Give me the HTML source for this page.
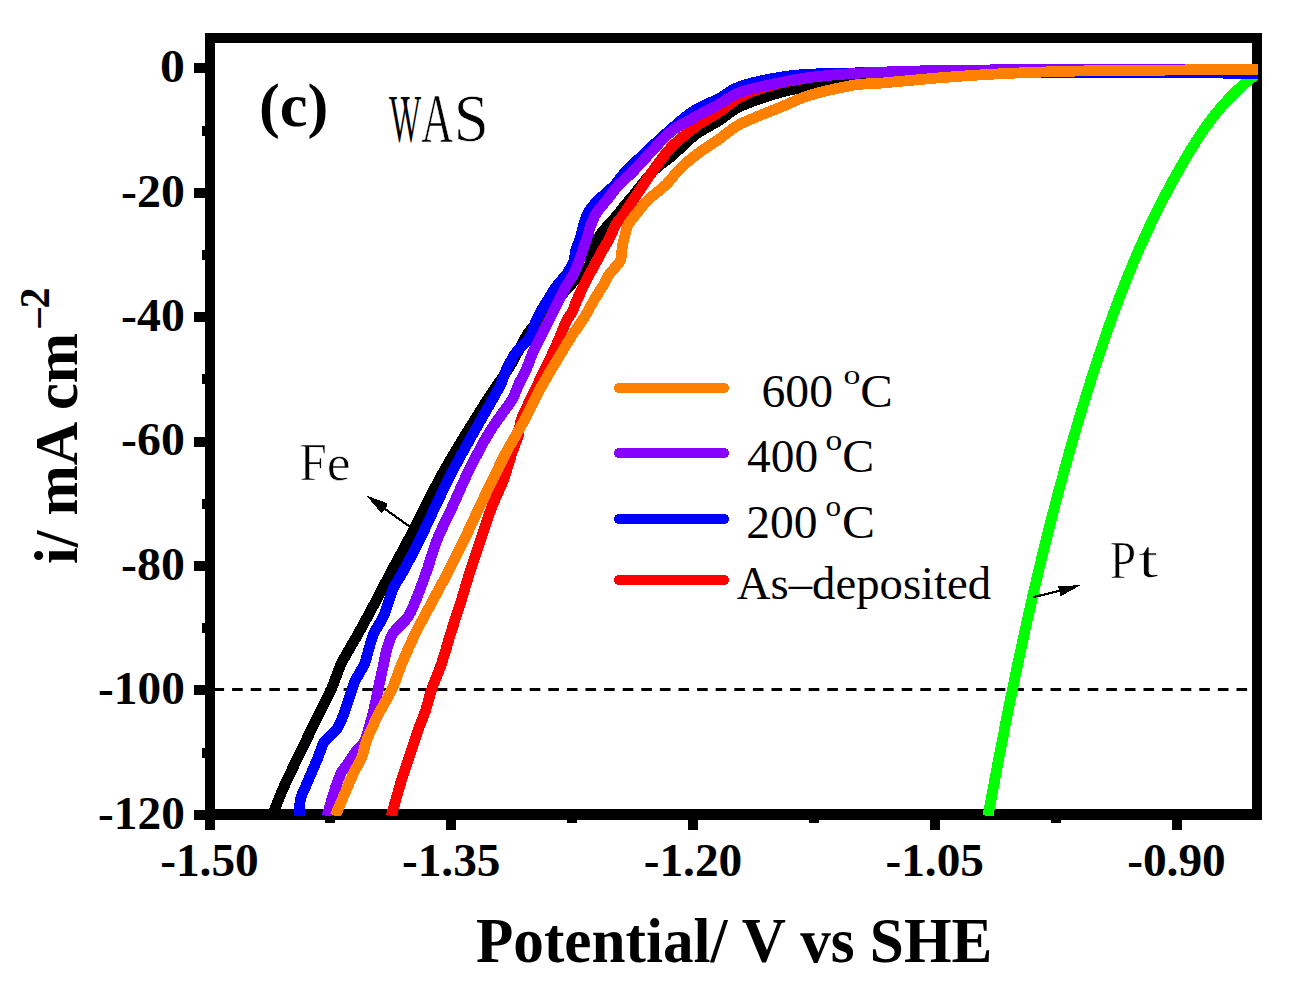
<!DOCTYPE html><html><head><meta charset="utf-8"><style>html,body{margin:0;padding:0;background:#fff;width:1290px;height:992px;overflow:hidden}svg{display:block}text{font-family:"Liberation Serif",serif}</style></head><body>
<svg width="1290" height="992" viewBox="0 0 1290 992">
<rect width="1290" height="992" fill="#fff"/>
<defs><clipPath id="pc"><rect x="205" y="33" width="1053" height="783"/></clipPath></defs>
<rect x="205" y="33" width="1057" height="10" fill="#000"/>
<rect x="205" y="33" width="10" height="787" fill="#000"/>
<rect x="1252" y="33" width="10" height="787" fill="#000"/>
<rect x="205" y="809" width="1057" height="11" fill="#000"/>
<rect x="194" y="63" width="12" height="10" fill="#000"/>
<rect x="202" y="126" width="4" height="10" fill="#000"/>
<rect x="194" y="188" width="12" height="10" fill="#000"/>
<rect x="202" y="250" width="4" height="10" fill="#000"/>
<rect x="194" y="312" width="12" height="10" fill="#000"/>
<rect x="202" y="374" width="4" height="10" fill="#000"/>
<rect x="194" y="437" width="12" height="10" fill="#000"/>
<rect x="202" y="499" width="4" height="10" fill="#000"/>
<rect x="194" y="561" width="12" height="10" fill="#000"/>
<rect x="202" y="623" width="4" height="10" fill="#000"/>
<rect x="194" y="685" width="12" height="10" fill="#000"/>
<rect x="202" y="748" width="4" height="10" fill="#000"/>
<rect x="194" y="810" width="12" height="10" fill="#000"/>
<rect x="205" y="818" width="10" height="12" fill="#000"/>
<rect x="325" y="818" width="10" height="5" fill="#000"/>
<rect x="446" y="818" width="10" height="12" fill="#000"/>
<rect x="567" y="818" width="10" height="5" fill="#000"/>
<rect x="688" y="818" width="10" height="12" fill="#000"/>
<rect x="809" y="818" width="10" height="5" fill="#000"/>
<rect x="930" y="818" width="10" height="12" fill="#000"/>
<rect x="1051" y="818" width="10" height="5" fill="#000"/>
<rect x="1172" y="818" width="10" height="12" fill="#000"/>
<line x1="213.5" y1="689.5" x2="1250" y2="689.5" stroke="#000" stroke-width="3" stroke-dasharray="10.6 8.0"/>
<g clip-path="url(#pc)">
<path d="M1255.1,75.0 C1254.9,75.2 1254.2,75.7 1253.8,76.0 C1253.4,76.3 1253.0,76.7 1252.6,77.0 C1252.1,77.3 1251.7,77.7 1251.3,78.0 C1250.9,78.3 1250.5,78.7 1250.1,79.0 C1249.7,79.3 1249.3,79.7 1248.9,80.0 C1248.5,80.3 1248.1,80.7 1247.7,81.0 C1247.3,81.3 1246.9,81.7 1246.5,82.0 C1246.1,82.3 1245.7,82.7 1245.3,83.0 C1245.0,83.3 1244.6,83.7 1244.2,84.0 C1243.8,84.3 1243.4,84.7 1243.1,85.0 C1242.7,85.3 1242.3,85.7 1241.9,86.0 C1241.6,86.3 1241.2,86.7 1240.8,87.0 C1240.5,87.3 1240.1,87.7 1239.7,88.0 C1239.4,88.3 1239.0,88.7 1238.6,89.0 C1238.3,89.3 1237.9,89.7 1237.6,90.0 C1237.2,90.3 1236.9,90.7 1236.5,91.0 C1236.2,91.3 1235.8,91.7 1235.5,92.0 C1235.1,92.3 1234.8,92.7 1234.5,93.0 C1234.1,93.3 1233.8,93.7 1233.4,94.0 C1233.1,94.3 1232.8,94.7 1232.4,95.0 C1232.1,95.3 1231.8,95.7 1231.4,96.0 C1231.1,96.3 1230.8,96.7 1230.5,97.0 C1230.1,97.3 1229.8,97.7 1229.5,98.0 C1229.2,98.3 1228.8,98.7 1228.5,99.0 C1228.2,99.3 1228.3,99.2 1227.6,100.0 C1226.8,100.8 1225.1,102.7 1223.9,104.0 C1222.7,105.3 1221.5,106.7 1220.4,108.0 C1219.2,109.3 1218.1,110.7 1217.0,112.0 C1215.9,113.3 1214.9,114.7 1213.8,116.0 C1212.8,117.3 1211.8,118.7 1210.7,120.0 C1209.7,121.3 1208.8,122.7 1207.8,124.0 C1206.8,125.3 1205.9,126.7 1204.9,128.0 C1204.0,129.3 1203.1,130.7 1202.2,132.0 C1201.3,133.3 1200.4,134.7 1199.5,136.0 C1198.7,137.3 1197.8,138.7 1196.9,140.0 C1196.1,141.3 1195.2,142.7 1194.4,144.0 C1193.6,145.3 1192.8,146.7 1191.9,148.0 C1191.1,149.3 1190.3,150.7 1189.5,152.0 C1188.7,153.3 1187.9,154.7 1187.1,156.0 C1186.3,157.3 1185.5,158.7 1184.7,160.0 C1183.9,161.3 1183.1,162.7 1182.4,164.0 C1181.6,165.3 1180.8,166.7 1180.1,168.0 C1179.3,169.3 1178.5,170.7 1177.8,172.0 C1177.0,173.3 1176.3,174.7 1175.5,176.0 C1174.8,177.3 1174.0,178.7 1173.3,180.0 C1172.6,181.3 1171.8,182.7 1171.1,184.0 C1170.4,185.3 1169.7,186.7 1169.0,188.0 C1168.2,189.3 1167.5,190.7 1166.8,192.0 C1166.1,193.3 1165.4,194.7 1164.7,196.0 C1164.0,197.3 1163.3,198.7 1162.6,200.0 C1161.9,201.3 1161.3,202.7 1160.6,204.0 C1159.9,205.3 1159.2,206.7 1158.6,208.0 C1157.9,209.3 1157.2,210.7 1156.6,212.0 C1155.9,213.3 1155.2,214.7 1154.6,216.0 C1153.9,217.3 1153.3,218.7 1152.7,220.0 C1152.0,221.3 1151.4,222.7 1150.7,224.0 C1150.1,225.3 1149.5,226.7 1148.8,228.0 C1148.2,229.3 1147.6,230.7 1147.0,232.0 C1146.4,233.3 1145.7,234.7 1145.1,236.0 C1144.5,237.3 1143.9,238.7 1143.3,240.0 C1142.7,241.3 1142.1,242.7 1141.5,244.0 C1140.9,245.3 1140.3,246.7 1139.7,248.0 C1139.1,249.3 1138.6,250.7 1138.0,252.0 C1137.4,253.3 1136.8,254.7 1136.2,256.0 C1135.7,257.3 1135.1,258.7 1134.5,260.0 C1134.0,261.3 1133.4,262.7 1132.8,264.0 C1132.3,265.3 1131.7,266.7 1131.2,268.0 C1130.6,269.3 1130.1,270.7 1129.5,272.0 C1129.0,273.3 1128.4,274.7 1127.9,276.0 C1127.3,277.3 1126.8,278.7 1126.3,280.0 C1125.7,281.3 1125.2,282.7 1124.7,284.0 C1124.2,285.3 1123.6,286.7 1123.1,288.0 C1122.6,289.3 1122.1,290.7 1121.6,292.0 C1121.0,293.3 1120.5,294.7 1120.0,296.0 C1119.5,297.3 1119.0,298.7 1118.5,300.0 C1118.0,301.3 1117.5,302.7 1117.0,304.0 C1116.5,305.3 1116.0,306.7 1115.5,308.0 C1115.0,309.3 1114.5,310.7 1114.0,312.0 C1113.5,313.3 1113.1,314.7 1112.6,316.0 C1112.1,317.3 1111.6,318.7 1111.1,320.0 C1110.7,321.3 1110.2,322.7 1109.7,324.0 C1109.2,325.3 1108.8,326.7 1108.3,328.0 C1107.8,329.3 1107.4,330.7 1106.9,332.0 C1106.4,333.3 1106.0,334.7 1105.5,336.0 C1105.0,337.3 1104.6,338.7 1104.1,340.0 C1103.7,341.3 1103.2,342.7 1102.8,344.0 C1102.3,345.3 1101.9,346.7 1101.4,348.0 C1101.0,349.3 1100.5,350.7 1100.1,352.0 C1099.6,353.3 1099.2,354.7 1098.7,356.0 C1098.3,357.3 1097.9,358.7 1097.4,360.0 C1097.0,361.3 1096.6,362.7 1096.1,364.0 C1095.7,365.3 1095.3,366.7 1094.8,368.0 C1094.4,369.3 1094.0,370.7 1093.5,372.0 C1093.1,373.3 1092.7,374.7 1092.3,376.0 C1091.8,377.3 1091.4,378.7 1091.0,380.0 C1090.6,381.3 1090.1,382.7 1089.7,384.0 C1089.3,385.3 1088.9,386.7 1088.5,388.0 C1088.1,389.3 1087.6,390.7 1087.2,392.0 C1086.8,393.3 1086.4,394.7 1086.0,396.0 C1085.6,397.3 1085.2,398.7 1084.8,400.0 C1084.3,401.3 1083.9,402.7 1083.5,404.0 C1083.1,405.3 1082.7,406.7 1082.3,408.0 C1081.9,409.3 1081.5,410.7 1081.1,412.0 C1080.7,413.3 1080.3,414.7 1079.9,416.0 C1079.5,417.3 1079.1,418.7 1078.7,420.0 C1078.3,421.3 1077.9,422.7 1077.5,424.0 C1077.1,425.3 1076.7,426.7 1076.3,428.0 C1076.0,429.3 1075.6,430.7 1075.2,432.0 C1074.8,433.3 1074.4,434.7 1074.0,436.0 C1073.6,437.3 1073.2,438.7 1072.9,440.0 C1072.5,441.3 1072.1,442.7 1071.7,444.0 C1071.3,445.3 1070.9,446.7 1070.6,448.0 C1070.2,449.3 1069.8,450.7 1069.4,452.0 C1069.0,453.3 1068.7,454.7 1068.3,456.0 C1067.9,457.3 1067.5,458.7 1067.2,460.0 C1066.8,461.3 1066.4,462.7 1066.1,464.0 C1065.7,465.3 1065.3,466.7 1064.9,468.0 C1064.6,469.3 1064.2,470.7 1063.8,472.0 C1063.5,473.3 1063.1,474.7 1062.8,476.0 C1062.4,477.3 1062.0,478.7 1061.7,480.0 C1061.3,481.3 1060.9,482.7 1060.6,484.0 C1060.2,485.3 1059.9,486.7 1059.5,488.0 C1059.1,489.3 1058.8,490.7 1058.4,492.0 C1058.1,493.3 1057.7,494.7 1057.4,496.0 C1057.0,497.3 1056.7,498.7 1056.3,500.0 C1056.0,501.3 1055.6,502.7 1055.3,504.0 C1054.9,505.3 1054.6,506.7 1054.2,508.0 C1053.9,509.3 1053.5,510.7 1053.2,512.0 C1052.8,513.3 1052.5,514.7 1052.2,516.0 C1051.8,517.3 1051.5,518.7 1051.1,520.0 C1050.8,521.3 1050.4,522.7 1050.1,524.0 C1049.8,525.3 1049.4,526.7 1049.1,528.0 C1048.8,529.3 1048.4,530.7 1048.1,532.0 C1047.8,533.3 1047.4,534.7 1047.1,536.0 C1046.8,537.3 1046.4,538.7 1046.1,540.0 C1045.8,541.3 1045.4,542.7 1045.1,544.0 C1044.8,545.3 1044.4,546.7 1044.1,548.0 C1043.8,549.3 1043.5,550.7 1043.1,552.0 C1042.8,553.3 1042.5,554.7 1042.2,556.0 C1041.8,557.3 1041.5,558.7 1041.2,560.0 C1040.9,561.3 1040.5,562.7 1040.2,564.0 C1039.9,565.3 1039.6,566.7 1039.3,568.0 C1039.0,569.3 1038.6,570.7 1038.3,572.0 C1038.0,573.3 1037.7,574.7 1037.4,576.0 C1037.1,577.3 1036.7,578.7 1036.4,580.0 C1036.1,581.3 1035.8,582.7 1035.5,584.0 C1035.2,585.3 1034.9,586.7 1034.6,588.0 C1034.2,589.3 1033.9,590.7 1033.6,592.0 C1033.3,593.3 1033.0,594.7 1032.7,596.0 C1032.4,597.3 1032.1,598.7 1031.8,600.0 C1031.5,601.3 1031.2,602.7 1030.9,604.0 C1030.6,605.3 1030.3,606.7 1030.0,608.0 C1029.7,609.3 1029.4,610.7 1029.1,612.0 C1028.8,613.3 1028.5,614.7 1028.2,616.0 C1027.9,617.3 1027.6,618.7 1027.3,620.0 C1027.0,621.3 1026.7,622.7 1026.4,624.0 C1026.1,625.3 1025.8,626.7 1025.5,628.0 C1025.2,629.3 1024.9,630.7 1024.6,632.0 C1024.3,633.3 1024.0,634.7 1023.8,636.0 C1023.5,637.3 1023.2,638.7 1022.9,640.0 C1022.6,641.3 1022.3,642.7 1022.0,644.0 C1021.7,645.3 1021.4,646.7 1021.2,648.0 C1020.9,649.3 1020.6,650.7 1020.3,652.0 C1020.0,653.3 1019.7,654.7 1019.4,656.0 C1019.2,657.3 1018.9,658.7 1018.6,660.0 C1018.3,661.3 1018.0,662.7 1017.7,664.0 C1017.5,665.3 1017.2,666.7 1016.9,668.0 C1016.6,669.3 1016.3,670.7 1016.1,672.0 C1015.8,673.3 1015.5,674.7 1015.2,676.0 C1015.0,677.3 1014.7,678.7 1014.4,680.0 C1014.1,681.3 1013.8,682.7 1013.6,684.0 C1013.3,685.3 1013.0,686.7 1012.8,688.0 C1012.5,689.3 1012.2,690.7 1011.9,692.0 C1011.7,693.3 1011.4,694.7 1011.1,696.0 C1010.8,697.3 1010.6,698.7 1010.3,700.0 C1010.0,701.3 1009.8,702.7 1009.5,704.0 C1009.2,705.3 1009.0,706.7 1008.7,708.0 C1008.4,709.3 1008.2,710.7 1007.9,712.0 C1007.6,713.3 1007.4,714.7 1007.1,716.0 C1006.8,717.3 1006.6,718.7 1006.3,720.0 C1006.0,721.3 1005.8,722.7 1005.5,724.0 C1005.2,725.3 1005.0,726.7 1004.7,728.0 C1004.4,729.3 1004.2,730.7 1003.9,732.0 C1003.7,733.3 1003.4,734.7 1003.1,736.0 C1002.9,737.3 1002.6,738.7 1002.4,740.0 C1002.1,741.3 1001.8,742.7 1001.6,744.0 C1001.3,745.3 1001.1,746.7 1000.8,748.0 C1000.5,749.3 1000.3,750.7 1000.0,752.0 C999.8,753.3 999.5,754.7 999.3,756.0 C999.0,757.3 998.8,758.7 998.5,760.0 C998.2,761.3 998.0,762.7 997.7,764.0 C997.5,765.3 997.2,766.7 997.0,768.0 C996.7,769.3 996.5,770.7 996.2,772.0 C996.0,773.3 995.7,774.7 995.5,776.0 C995.2,777.3 995.0,778.7 994.7,780.0 C994.5,781.3 994.2,782.7 994.0,784.0 C993.7,785.3 993.5,786.7 993.2,788.0 C993.0,789.3 992.7,790.7 992.5,792.0 C992.2,793.3 992.0,794.7 991.7,796.0 C991.5,797.3 991.2,798.7 991.0,800.0 C990.7,801.3 990.5,802.7 990.2,804.0 C990.0,805.3 989.7,806.7 989.5,808.0 C989.2,809.3 989.0,810.7 988.7,812.0 C988.5,813.3 988.1,815.3 988.0,816.0" fill="none" stroke="#00ff00" stroke-width="10.8" stroke-linejoin="round" stroke-linecap="butt" shape-rendering="crispEdges"/>
<path d="M272.2,816.0 C274.0,811.4 278.9,798.2 283.2,788.5 C287.5,778.8 292.9,767.8 297.8,757.5 C302.8,747.2 307.3,737.9 312.9,726.5 C318.5,715.1 326.7,699.4 331.4,689.0 C336.1,678.6 336.6,673.3 341.1,664.0 C345.6,654.7 352.9,643.3 358.6,633.0 C364.3,622.7 369.9,612.3 375.4,602.0 C380.9,591.7 386.1,581.3 391.6,571.0 C397.1,560.7 399.5,556.9 408.3,540.0 C417.1,523.1 431.5,493.1 444.6,469.8 C457.8,446.5 476.3,417.2 487.2,400.0 C498.1,382.8 503.0,377.7 509.8,366.5 C516.6,355.3 522.7,341.4 528.3,333.0 C533.9,324.6 538.3,321.7 543.3,316.0 C548.3,310.3 553.3,304.7 558.3,299.0 C563.3,293.3 568.3,287.2 573.3,282.0 C578.3,276.8 585.2,272.6 588.3,268.0 C591.4,263.4 589.8,259.7 591.7,254.3 C593.6,248.9 595.6,241.9 599.6,235.7 C603.6,229.5 611.1,222.4 615.6,217.0 C620.1,211.6 623.6,206.9 626.5,203.4 C629.4,199.9 628.5,201.2 633.0,195.8 C637.5,190.4 646.6,177.8 653.3,171.0 C660.0,164.2 666.1,161.0 673.0,155.0 C679.9,149.0 687.0,141.1 694.8,135.2 C702.6,129.4 712.1,125.0 719.6,120.2 C727.1,115.4 729.9,111.1 740.0,106.5 C750.1,101.9 768.3,95.8 780.0,92.5 C791.7,89.2 798.3,88.5 810.0,86.4 C821.7,84.3 835.0,81.7 850.0,80.0 C865.0,78.3 883.3,77.1 900.0,76.0 C916.7,74.9 925.0,74.2 950.0,73.5 C975.0,72.8 1016.7,72.0 1050.0,71.5 C1083.3,71.0 1115.3,70.8 1150.0,70.5 C1184.7,70.2 1240.0,70.1 1258.0,70.0" fill="none" stroke="#000" stroke-width="10.8" stroke-linejoin="round" stroke-linecap="butt" shape-rendering="crispEdges"/>
<path d="M391.3,816.0 C392.6,811.4 396.9,795.7 399.0,788.5 C401.1,781.3 402.2,778.2 403.9,773.0 C405.6,767.8 407.3,762.7 409.0,757.5 C410.7,752.3 412.4,747.2 414.1,742.0 C415.8,736.8 417.5,731.7 419.4,726.5 C421.3,721.3 423.3,717.2 425.4,711.0 C427.5,704.8 429.1,696.8 431.8,689.0 C434.5,681.2 438.2,673.3 441.4,664.0 C444.6,654.7 447.6,643.3 450.8,633.0 C454.0,622.7 457.6,612.3 460.8,602.0 C464.0,591.7 466.9,581.3 470.2,571.0 C473.5,560.7 477.0,550.4 480.5,540.0 C484.0,529.6 487.5,518.5 491.3,508.5 C495.1,498.5 500.7,487.1 503.5,480.0 C506.3,472.9 506.4,470.8 507.9,466.0 C509.4,461.2 510.9,456.0 512.6,451.0 C514.3,446.0 516.8,441.0 518.2,436.0 C519.6,431.0 519.2,425.9 520.8,420.8 C522.3,415.7 525.2,410.7 527.5,405.6 C529.8,400.6 531.1,398.1 534.7,390.5 C538.3,382.9 546.1,367.1 549.3,360.3 C552.5,353.6 552.4,353.8 554.1,350.0 C555.8,346.2 557.6,342.2 559.6,337.5 C561.6,332.8 563.9,326.3 566.0,322.0 C568.1,317.7 570.3,315.4 572.2,311.6 C574.1,307.8 575.4,303.3 577.3,299.2 C579.1,295.1 581.3,290.9 583.3,286.8 C585.3,282.7 587.2,278.5 589.4,274.4 C591.5,270.3 594.0,266.1 596.2,262.0 C598.5,257.9 600.6,253.7 602.9,249.6 C605.2,245.5 608.0,241.3 610.1,237.2 C612.2,233.1 613.1,228.9 615.6,224.8 C618.1,220.7 622.1,216.5 625.0,212.4 C627.9,208.3 629.9,204.9 633.1,200.0 C636.4,195.1 641.2,187.8 644.5,183.0 C647.8,178.2 648.5,176.7 652.7,171.0 C657.0,165.3 663.0,155.9 670.0,148.6 C677.0,141.3 686.5,133.3 694.8,127.2 C703.1,121.0 711.3,116.9 719.6,111.5 C727.9,106.1 734.3,99.5 744.4,94.7 C754.5,90.0 770.7,85.5 780.0,83.0 C789.3,80.5 796.7,80.1 800.0,79.5" fill="none" stroke="#ff0000" stroke-width="10.8" stroke-linejoin="round" stroke-linecap="butt" shape-rendering="crispEdges"/>
<path d="M299.1,816.0 C299.3,813.2 299.6,803.6 300.5,799.0 C301.4,794.4 302.9,792.8 304.7,788.5 C306.5,784.2 309.2,778.2 311.4,773.0 C313.6,767.8 315.9,762.7 318.0,757.5 C320.1,752.3 321.8,745.9 324.2,742.0 C326.6,738.1 329.7,736.6 332.1,734.0 C334.5,731.4 336.3,730.3 338.4,726.5 C340.5,722.7 342.6,717.2 344.9,711.0 C347.2,704.8 350.3,694.2 352.1,689.0 C353.9,683.8 353.8,683.7 355.8,679.5 C357.9,675.3 362.2,669.2 364.4,664.0 C366.6,658.8 367.4,653.7 369.0,648.5 C370.6,643.3 371.7,638.2 374.0,633.0 C376.3,627.8 380.6,622.7 383.0,617.5 C385.4,612.3 386.5,607.2 388.4,602.0 C390.3,596.8 391.7,591.7 394.2,586.5 C396.7,581.3 399.1,578.8 403.3,571.0 C407.5,563.2 411.2,556.9 419.5,540.0 C427.8,523.1 441.1,493.1 453.2,469.8 C465.3,446.5 484.2,414.3 492.2,400.0 C500.1,385.7 498.4,389.2 500.9,384.0 C503.3,378.8 504.4,373.7 506.9,368.5 C509.4,363.3 511.9,358.2 515.7,353.0 C519.5,347.8 526.4,342.7 529.7,337.5 C533.0,332.3 533.5,326.8 535.6,322.0 C537.7,317.2 540.1,312.8 542.2,309.0 C544.3,305.2 545.9,302.9 548.2,299.2 C550.5,295.5 553.0,290.9 556.0,286.8 C559.0,282.7 563.5,278.5 566.4,274.4 C569.3,270.3 571.9,266.1 573.5,262.0 C575.1,257.9 574.8,253.7 576.0,249.6 C577.2,245.5 579.2,241.3 580.5,237.2 C581.8,233.1 582.2,229.2 583.6,224.8 C585.0,220.4 586.5,215.1 589.0,211.0 C591.5,206.9 594.1,204.4 598.4,200.0 C602.7,195.6 610.3,189.6 615.0,184.8 C619.7,180.0 617.2,180.1 626.4,171.0 C635.6,161.9 658.6,140.1 670.0,130.0 C681.4,119.9 686.5,115.5 694.8,110.2 C703.1,105.0 712.1,102.3 719.6,98.3 C727.1,94.3 729.9,89.9 740.0,86.4 C750.1,82.9 768.3,79.2 780.0,77.2 C791.7,75.2 798.3,74.9 810.0,74.2 C821.7,73.5 838.3,73.4 850.0,73.1 C861.7,72.8 855.0,72.6 880.0,72.5 C905.0,72.4 963.3,72.5 1000.0,72.5 C1036.7,72.5 1057.0,72.7 1100.0,72.8 C1143.0,72.9 1231.7,73.1 1258.0,73.2" fill="none" stroke="#0000ff" stroke-width="10.8" stroke-linejoin="round" stroke-linecap="butt" shape-rendering="crispEdges"/>
<path d="M327.0,816.0 C328.4,811.4 332.8,795.7 335.2,788.5 C337.6,781.3 339.2,776.9 341.1,773.0 C343.0,769.1 344.3,768.5 346.7,765.0 C349.1,761.5 352.7,755.8 355.6,752.0 C358.5,748.2 361.8,746.2 364.1,742.0 C366.4,737.8 367.8,731.7 369.4,726.5 C371.0,721.3 372.1,717.2 373.6,711.0 C375.1,704.8 376.5,696.8 378.2,689.0 C379.9,681.2 382.1,670.8 383.6,664.0 C385.1,657.2 385.4,653.7 387.0,648.5 C388.6,643.3 389.8,638.2 393.2,633.0 C396.6,627.8 404.0,622.7 407.6,617.5 C411.2,612.3 411.9,609.8 415.1,602.0 C418.3,594.2 423.1,581.3 426.7,571.0 C430.3,560.7 432.9,550.4 437.0,540.0 C441.1,529.6 446.2,520.2 451.6,508.5 C457.0,496.8 462.8,482.7 469.2,469.8 C475.6,456.9 483.0,442.6 490.1,431.0 C497.2,419.4 507.0,407.8 511.8,400.0 C516.6,392.2 516.3,389.2 518.8,384.0 C521.3,378.8 524.3,373.7 526.6,368.5 C528.9,363.3 530.4,358.2 532.7,353.0 C535.0,347.8 537.7,342.7 540.3,337.5 C542.9,332.3 545.5,327.2 548.1,322.0 C550.7,316.8 553.9,310.3 555.8,306.5 C557.7,302.7 557.8,302.5 559.4,299.2 C561.0,295.9 563.2,290.9 565.6,286.8 C568.0,282.7 571.3,278.5 573.5,274.4 C575.7,270.3 577.3,266.1 578.9,262.0 C580.5,257.9 581.5,253.7 582.9,249.6 C584.3,245.5 585.9,241.3 587.2,237.2 C588.6,233.1 589.4,228.9 591.0,224.8 C592.6,220.7 594.1,216.5 596.7,212.4 C599.4,208.3 603.2,204.6 606.9,200.0 C610.6,195.4 614.4,189.6 618.8,184.8 C623.2,180.0 625.0,179.7 633.5,171.0 C642.0,162.3 659.8,141.4 670.0,132.5 C680.2,123.5 686.5,122.1 694.8,117.3 C703.1,112.5 712.1,108.1 719.6,103.9 C727.1,99.7 729.9,95.9 740.0,92.3 C750.1,88.8 768.3,85.1 780.0,82.6 C791.7,80.1 798.3,78.9 810.0,77.4 C821.7,75.9 836.7,74.6 850.0,73.7 C863.3,72.8 875.0,72.4 890.0,71.8 C905.0,71.3 921.7,70.8 940.0,70.5 C958.3,70.2 973.3,70.0 1000.0,69.8 C1026.7,69.6 1057.0,69.6 1100.0,69.5 C1143.0,69.4 1231.7,69.1 1258.0,69.0" fill="none" stroke="#8800ff" stroke-width="10.8" stroke-linejoin="round" stroke-linecap="butt" shape-rendering="crispEdges"/>
<path d="M335.2,816.0 C337.1,811.4 343.8,795.7 346.9,788.5 C350.0,781.3 351.1,778.2 353.6,773.0 C356.1,767.8 359.6,762.7 361.7,757.5 C363.8,752.3 364.3,747.2 366.1,742.0 C367.9,736.8 370.2,731.7 372.6,726.5 C375.0,721.3 376.9,717.2 380.2,711.0 C383.4,704.8 388.5,696.8 392.1,689.0 C395.7,681.2 397.8,673.3 401.7,664.0 C405.6,654.7 410.6,643.3 415.6,633.0 C420.7,622.7 426.5,612.3 432.0,602.0 C437.5,591.7 443.3,581.3 448.6,571.0 C453.9,560.7 459.0,550.4 464.0,540.0 C469.0,529.6 474.1,518.5 478.8,508.5 C483.6,498.5 487.8,489.6 492.5,480.0 C497.2,470.4 501.6,460.9 506.9,451.0 C512.1,441.1 518.6,430.9 524.0,420.8 C529.4,410.7 533.8,400.6 539.3,390.5 C544.8,380.4 551.6,369.1 556.8,360.3 C562.0,351.5 566.6,343.9 570.7,337.5 C574.8,331.1 578.5,326.3 581.3,322.0 C584.1,317.7 585.5,315.4 587.7,311.6 C589.9,307.8 592.0,303.3 594.4,299.2 C596.8,295.1 599.9,290.9 602.4,286.8 C604.9,282.7 606.3,278.5 609.2,274.4 C612.1,270.3 617.6,265.1 619.6,262.0 C621.6,258.9 620.8,258.5 621.3,256.0 C621.8,253.5 621.8,249.9 622.3,246.8 C622.8,243.7 623.5,240.9 624.5,237.2 C625.5,233.5 625.9,228.9 628.0,224.8 C630.1,220.7 634.1,216.5 637.4,212.4 C640.7,208.3 643.1,204.6 647.9,200.0 C652.6,195.4 660.9,189.6 665.9,184.8 C670.9,180.0 673.1,175.8 677.9,171.0 C682.7,166.2 687.8,161.1 694.8,155.8 C701.8,150.4 712.1,144.0 719.6,138.7 C727.1,133.4 729.9,129.4 740.0,124.2 C750.1,119.0 768.3,112.2 780.0,107.4 C791.7,102.6 798.3,98.9 810.0,95.2 C821.7,91.6 840.8,87.6 850.0,85.8 C859.2,83.9 860.0,84.4 865.0,84.0 C870.0,83.6 867.5,84.2 880.0,83.2 C892.5,82.2 920.0,79.4 940.0,77.8 C960.0,76.2 976.0,74.9 1000.0,73.8 C1024.0,72.6 1055.9,71.5 1083.7,70.9 C1111.5,70.3 1138.0,70.4 1167.0,70.1 C1196.0,69.8 1242.8,69.3 1258.0,69.2" fill="none" stroke="#ff8000" stroke-width="10.8" stroke-linejoin="round" stroke-linecap="butt" shape-rendering="crispEdges"/>
</g>
<line x1="619" y1="388" x2="724" y2="388" stroke="#ff8000" stroke-width="10" stroke-linecap="round" shape-rendering="crispEdges"/>
<line x1="619" y1="453" x2="724" y2="453" stroke="#8800ff" stroke-width="10" stroke-linecap="round" shape-rendering="crispEdges"/>
<line x1="619" y1="519" x2="724" y2="519" stroke="#0000ff" stroke-width="10" stroke-linecap="round" shape-rendering="crispEdges"/>
<line x1="619" y1="580" x2="724" y2="580" stroke="#ff0000" stroke-width="10" stroke-linecap="round" shape-rendering="crispEdges"/>
<text transform="translate(761.55,406.50) scale(1.0357,1)" font-size="46.00">600</text>
<text transform="translate(843.51,384.32) scale(1.1932,1)" font-size="28.28">o</text>
<text transform="translate(860.20,406.50) scale(1.0588,1)" font-size="46.00">C</text>
<text transform="translate(747.08,471.70) scale(1.0294,1)" font-size="46.00">400</text>
<text transform="translate(825.52,450.32) scale(1.1762,1)" font-size="28.48">o</text>
<text transform="translate(842.24,471.70) scale(1.0397,1)" font-size="46.00">C</text>
<text transform="translate(746.31,537.70) scale(1.0333,1)" font-size="46.00">200</text>
<text transform="translate(825.51,516.22) scale(1.0934,1)" font-size="28.48">o</text>
<text transform="translate(842.07,537.70) scale(1.0740,1)" font-size="46.00">C</text>
<text transform="translate(736.84,598.80) scale(1.0156,1)" font-size="46.00">As–deposited</text>
<text transform="translate(160.00,82.15) scale(1.0768,1)" font-size="46.24" font-weight="bold">0</text>
<text transform="translate(121.05,206.55) scale(1.0348,1)" font-size="46.24" font-weight="bold">-20</text>
<text transform="translate(121.05,330.95) scale(1.0348,1)" font-size="46.24" font-weight="bold">-40</text>
<text transform="translate(121.05,455.35) scale(1.0348,1)" font-size="46.24" font-weight="bold">-60</text>
<text transform="translate(121.05,579.75) scale(1.0348,1)" font-size="46.24" font-weight="bold">-80</text>
<text transform="translate(98.07,704.15) scale(1.0234,1)" font-size="46.24" font-weight="bold">-100</text>
<text transform="translate(98.07,828.55) scale(1.0234,1)" font-size="46.24" font-weight="bold">-120</text>
<text transform="translate(160.17,876.25) scale(1.0375,1)" font-size="45.64" font-weight="bold">-1.50</text>
<text transform="translate(401.92,876.25) scale(1.0323,1)" font-size="45.84" font-weight="bold">-1.35</text>
<text transform="translate(643.67,876.25) scale(1.0375,1)" font-size="45.64" font-weight="bold">-1.20</text>
<text transform="translate(885.42,876.25) scale(1.0367,1)" font-size="45.64" font-weight="bold">-1.05</text>
<text transform="translate(1127.17,876.25) scale(1.0375,1)" font-size="45.64" font-weight="bold">-0.90</text>
<text transform="translate(475.95,962.00) scale(0.9779,1)" font-size="62.60" font-weight="bold">Potential/ V vs SHE</text>
<text transform="translate(77.00,564.02) rotate(-90) scale(0.9782,1)" font-size="61.60" font-weight="bold">i/ mA cm</text>
<text transform="translate(49.00,327.54) rotate(-90) scale(0.9113,1)" font-size="42.30" font-weight="bold">–</text>
<text transform="translate(49.00,308.38) rotate(-90) scale(1.0025,1)" font-size="42.30" font-weight="bold">2</text>
<text transform="translate(259.05,125.92) scale(1.0252,1)" font-size="60.99" font-weight="bold">(c)</text>
<text transform="translate(388.67,140.59) scale(0.4381,1)" font-size="66.87">V</text>
<text transform="translate(400.48,140.59) scale(0.4296,1)" font-size="66.87">V</text>
<text transform="translate(421.37,141.60) scale(0.6386,1)" font-size="69.07" stroke="#fff" stroke-width="0.7">A</text>
<text transform="translate(453.79,141.15) scale(0.9400,1)" font-size="66.98" stroke="#fff" stroke-width="0.7">S</text>
<text transform="translate(299.49,479.80) scale(0.9231,1)" font-size="53.15" stroke="#fff" stroke-width="0.7">F</text>
<text transform="translate(326.79,480.31) scale(1.0874,1)" font-size="49.69" stroke="#fff" stroke-width="0.7">e</text>
<text transform="translate(1109.63,577.90) scale(0.8868,1)" font-size="53.45" stroke="#fff" stroke-width="0.7">P</text>
<text transform="translate(1138.29,577.39) scale(1.3834,1)" font-size="52.38" stroke="#fff" stroke-width="0.7">t</text>
<g shape-rendering="crispEdges">
<line x1="410.2" y1="526.9" x2="380" y2="505.5" stroke="#000" stroke-width="2.2"/>
<path d="M366.3,495.6 L387.4,503.2 L386.8,506.2 L385.4,509.4 L381.3,513 Z" fill="#000"/>
<line x1="1033" y1="597.2" x2="1062" y2="590.2" stroke="#000" stroke-width="2.2"/>
<path d="M1080.4,585.2 L1057.5,586.2 L1059.2,589.5 L1060.3,596.6 Z" fill="#000"/>
</g>
</svg></body></html>
